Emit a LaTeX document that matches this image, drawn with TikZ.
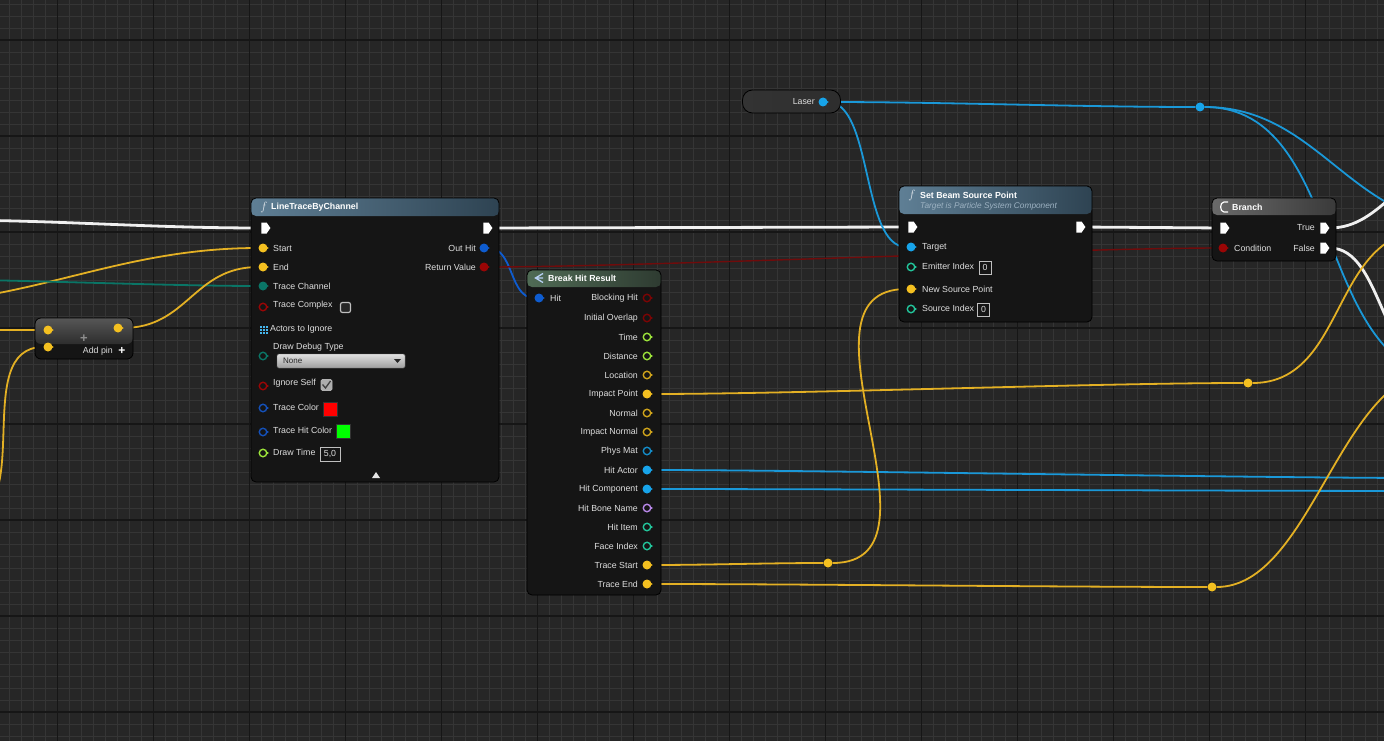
\documentclass[tikz,border=0pt]{standalone}
\usepackage{fontspec}
\setmainfont{Liberation Sans}
\usetikzlibrary{shapes.symbols,shapes.geometric}

\definecolor{canvas}{HTML}{262626}
\definecolor{gridminor}{HTML}{353535}
\definecolor{gridmajor}{HTML}{161616}
\definecolor{nodebg}{HTML}{151515}
\definecolor{labeltext}{HTML}{DEDEDE}
\definecolor{fnheadL}{HTML}{5F7F95}
\definecolor{fnheadR}{HTML}{2E4352}
\definecolor{brkheadL}{HTML}{506B55}
\definecolor{brkheadR}{HTML}{2E3B31}
\definecolor{grayheadL}{HTML}{6A6A6A}
\definecolor{grayheadR}{HTML}{3A3A3A}
\definecolor{vecyellow}{HTML}{F4C020}
\definecolor{wireyellow}{HTML}{E3B024}
\definecolor{objblue}{HTML}{17A4EA}
\definecolor{wireblue}{HTML}{1A98D8}
\definecolor{structblue}{HTML}{0E5CD0}
\definecolor{boolred}{HTML}{9A0505}
\definecolor{wirered}{HTML}{700B0B}
\definecolor{floatgreen}{HTML}{9BE23A}
\definecolor{intteal}{HTML}{22C49A}
\definecolor{enumteal}{HTML}{0A7566}
\definecolor{colorblue}{HTML}{1450B8}
\definecolor{namepurple}{HTML}{B686E6}
\definecolor{subtitle}{HTML}{9DB2C2}

\pgfdeclarelayer{grid}
\pgfdeclarelayer{wires}
\pgfsetlayers{grid,wires,main}

\begin{document}
\begin{tikzpicture}[x=1pt, y=-1pt, font=\fontsize{8.8}{10}\selectfont]
    \tikzstyle{bp node} = [rectangle, rounded corners=5pt, draw=black, line width=0.8pt, fill=nodebg, inner sep=0pt]
    \tikzset{head/.style n args={3}{path picture={\shade[left color=#2, right color=#3] (path picture bounding box.north west) rectangle ([yshift=-#1]path picture bounding box.north east);}}}
    \tikzset{cap/.style n args={3}{path picture={\shade[top color=#2, bottom color=#3] (path picture bounding box.north west) rectangle ([yshift=-#1]path picture bounding box.north east);}}}
    \tikzstyle{title} = [anchor=west, inner sep=0pt, text=white, font=\fontsize{8.8}{10}\selectfont\bfseries]
    \tikzstyle{fn icon} = [inner sep=0pt, text=white!80!fnheadL, font=\fontsize{12}{12}\selectfont]
    \tikzstyle{lbl} = [anchor=west, inner sep=0pt, text=labeltext]
    \tikzstyle{lbl right} = [anchor=east, inner sep=0pt, text=labeltext]
    \tikzstyle{pin tip} = [regular polygon, regular polygon sides=3, shape border rotate=-90, fill=#1, inner sep=0pt, minimum size=3pt]
    \tikzstyle{pin full} = [circle, fill=#1, inner sep=0pt, minimum size=9pt, label={[pin tip=#1, label distance=-1.4pt]0:}]
    \tikzstyle{pin ring} = [circle, draw=#1, line width=1.4pt, fill=nodebg, inner sep=0pt, minimum size=7.5pt, label={[pin tip=#1, label distance=-0.8pt]0:}]
    \tikzstyle{pin exec} = [signal, signal to=east, signal pointer angle=110, fill=white, inner sep=0pt, minimum width=9pt, minimum height=11pt]
    \tikzstyle{knot} = [circle, fill=#1, inner sep=0pt, minimum size=9pt]
    \tikzstyle{wire} = [draw=#1, line width=1.8pt]
    \tikzstyle{exec wire} = [draw=white!94!black, line width=2.8pt]
    \tikzstyle{value box} = [draw=white!75!black, line width=0.8pt, inner sep=0pt, minimum width=12pt, minimum height=13pt, text=labeltext]
    \tikzstyle{swatch} = [draw=black!80, line width=0.6pt, inner sep=0pt, minimum width=14pt, minimum height=14pt]

\useasboundingbox (0,0) rectangle (1384,741);
\begin{pgfonlayer}{grid}
\fill[canvas] (0,0) rectangle (1384,741);
\foreach \gx in {9.5,21.5,...,1384} \draw[gridminor, line width=0.8pt] (\gx,0) -- (\gx,741);
\foreach \gy in {4,16,...,741} \draw[gridminor, line width=0.8pt] (0,\gy) -- (1384,\gy);
\foreach \gx in {57.5,153.5,...,1384} \draw[gridmajor, line width=1.1pt] (\gx,0) -- (\gx,741);
\foreach \gy in {40,136,...,741} \draw[gridmajor, line width=1.1pt] (0,\gy) -- (1384,\gy);
\end{pgfonlayer}

% Add pin
\node[bp node, rounded corners=6pt, minimum width=98pt, minimum height=41pt, cap={26pt}{black!66}{nodebg}] (add) at (84,338.5) {};
\node[pin full=vecyellow] (add-a) at (48,330) {};
\node[pin full=vecyellow] (add-b) at (48,347) {};
\node[pin full=vecyellow] (add-out) at (118,328) {};
\node[inner sep=0pt, text=black!45, font=\fontsize{13}{13}\selectfont\bfseries] (add-plus) at (84,339) {+};
\node[lbl right] (add-lbl) at (113,351) {Add pin};
\node[inner sep=0pt, text=white, font=\fontsize{12}{12}\selectfont\bfseries] (add-pin) at (122,351) {+};

% LineTraceByChannel
\node[bp node, minimum width=248pt, minimum height=284pt, head={18pt}{fnheadL}{fnheadR}] (lt) at (375,340) {};
\node[fn icon] (lt-icon) at (264,207) {$f$};
\node[title] (lt-title) at (271,207) {LineTraceByChannel};
\node[pin exec] (lt-exec-in) at (264,228) {};
\node[pin exec] (lt-exec-out) at (486,228) {};
\node[pin full=vecyellow] (lt-start) at (263,248) {};
\node[lbl] at (273,248) {Start};
\node[pin full=vecyellow] (lt-end) at (263,267) {};
\node[lbl] at (273,267) {End};
\node[pin full=enumteal] (lt-chan) at (263,286) {};
\node[lbl] at (273,286) {Trace Channel};
\node[pin ring=boolred] (lt-complex) at (263,307) {};
\node[lbl] at (273,305) {Trace Complex};
\node[bp node, rounded corners=2pt, draw=white!75!black, line width=1.2pt, fill=black!85, minimum size=10pt] (lt-complex-box) at (345.5,307.5) {};
\foreach \i in {0,1,2} \foreach \j in {0,1,2} \fill[objblue!80!white] (259.5+3.2*\i,325.5+3.2*\j) rectangle +(2.1,2.1);
\node[lbl] at (270,329) {Actors to Ignore};
\node[pin ring=enumteal] (lt-debug) at (263,356) {};
\node[lbl] at (273,347) {Draw Debug Type};
\node[rectangle, rounded corners=1.5pt, draw=black!60, top color=black!12, bottom color=black!38, minimum width=128pt, minimum height=14pt, inner sep=0pt] (lt-drop) at (341,361) {};
\node[lbl, text=black!85, font=\fontsize{8}{9}\selectfont] at (283,361) {None};
\fill[black!85] (394,359) -- (401,359) -- (397.5,363) -- cycle;
\node[pin ring=boolred] (lt-self) at (263,386) {};
\node[lbl] at (273,383) {Ignore Self};
\node[bp node, rounded corners=1.5pt, draw=black!30, fill=black!32, minimum size=11pt] (lt-self-box) at (326.5,385) {};
\draw[black!75, line width=1.3pt] (322.5,384.5) -- (325.5,388) -- (330.5,381);
\node[pin ring=colorblue] (lt-tcolor) at (263,408) {};
\node[lbl] at (273,407) {Trace Color};
\node[swatch, fill=red] (lt-tcolor-swatch) at (330,409) {};
\node[pin ring=colorblue] (lt-hcolor) at (263,432) {};
\node[lbl] at (273,430) {Trace Hit Color};
\node[swatch, fill=green] (lt-hcolor-swatch) at (343,431.5) {};
\node[pin ring=floatgreen] (lt-time) at (263,453) {};
\node[lbl] at (273,452) {Draw Time};
\node[value box, minimum width=20pt, minimum height=14pt] (lt-time-box) at (330,454) {5,0};
\fill[labeltext!80] (372,478) -- (380,478) -- (376,472) -- cycle;
\node[lbl right] at (476,248) {Out Hit};
\node[pin full=structblue] (lt-outhit) at (484,248) {};
\node[lbl right] at (476,267) {Return Value};
\node[pin full=boolred] (lt-ret) at (484,267) {};

% Break Hit Result
\node[bp node, minimum width=134pt, minimum height=325pt, head={17pt}{brkheadL}{brkheadR}] (bh) at (594,432.5) {};
\draw[white!70!structblue, line width=1.3pt] (543,273.5) -- (535.5,278) -- (543,282.5) (535.5,278) -- (543,278);
\node[title] (bh-title) at (548,278) {Break Hit Result};
\node[pin full=structblue] (bh-hit) at (539,298) {};
\node[lbl] at (550,298) {Hit};
\node[lbl right] at (638,298) {Blocking Hit};
\node[pin ring=boolred!80!black] (bh-block) at (647,298) {};
\node[lbl right] at (638,318) {Initial Overlap};
\node[pin ring=boolred!80!black] (bh-overlap) at (647,318) {};
\node[lbl right] at (638,337) {Time};
\node[pin ring=floatgreen] (bh-time) at (647,337) {};
\node[lbl right] at (638,356) {Distance};
\node[pin ring=floatgreen] (bh-dist) at (647,356) {};
\node[lbl right] at (638,375) {Location};
\node[pin ring=vecyellow!85!black] (bh-loc) at (647,375) {};
\node[lbl right] at (638,394) {Impact Point};
\node[pin full=vecyellow] (bh-impact) at (647,394) {};
\node[lbl right] at (638,413) {Normal};
\node[pin ring=vecyellow!85!black] (bh-normal) at (647,413) {};
\node[lbl right] at (638,432) {Impact Normal};
\node[pin ring=vecyellow!85!black] (bh-inormal) at (647,432) {};
\node[lbl right] at (638,451) {Phys Mat};
\node[pin ring=objblue!85!black] (bh-physmat) at (647,451) {};
\node[lbl right] at (638,470) {Hit Actor};
\node[pin full=objblue] (bh-actor) at (647,470) {};
\node[lbl right] at (638,489) {Hit Component};
\node[pin full=objblue] (bh-comp) at (647,489) {};
\node[lbl right] at (638,508) {Hit Bone Name};
\node[pin ring=namepurple] (bh-bone) at (647,508) {};
\node[lbl right] at (638,527) {Hit Item};
\node[pin ring=intteal] (bh-item) at (647,527) {};
\node[lbl right] at (638,546) {Face Index};
\node[pin ring=intteal] (bh-face) at (647,546) {};
\node[lbl right] at (638,565) {Trace Start};
\node[pin full=vecyellow] (bh-tstart) at (647,565) {};
\node[lbl right] at (638,584) {Trace End};
\node[pin full=vecyellow] (bh-tend) at (647,584) {};

% Laser
\node[rectangle, rounded corners=10pt, draw=black, line width=0.8pt, left color=black!80, middle color=objblue!65!black, right color=black!82, minimum width=98pt, minimum height=23pt, inner sep=0pt] (laser) at (791.5,101.5) {};
\node[lbl right] at (815,102) {Laser};
\node[pin full=objblue] (laser-out) at (823,102) {};

% Set Beam Source Point
\node[bp node, minimum width=193pt, minimum height=136pt, head={28pt}{fnheadL}{fnheadR}] (sb) at (995.5,254) {};
\node[fn icon] (sb-icon) at (912,195) {$f$};
\node[title] (sb-title) at (920,195) {Set Beam Source Point};
\node[lbl, text=subtitle, font=\fontsize{8.3}{9}\selectfont\itshape] (sb-sub) at (920,206.5) {Target is Particle System Component};
\node[pin exec] (sb-exec-in) at (911,227) {};
\node[pin exec] (sb-exec-out) at (1079,227) {};
\node[pin full=objblue] (sb-target) at (911,247) {};
\node[lbl] at (922,247) {Target};
\node[pin ring=intteal] (sb-emitter) at (911,267) {};
\node[lbl] at (922,266) {Emitter Index};
\node[value box] (sb-emitter-box) at (985,267.5) {0};
\node[pin full=vecyellow] (sb-source) at (911,289) {};
\node[lbl] at (922,289) {New Source Point};
\node[pin ring=intteal] (sb-index) at (911,309) {};
\node[lbl] at (922,308) {Source Index};
\node[value box] (sb-index-box) at (983.5,309.5) {0};

% Branch
\node[bp node, minimum width=124pt, minimum height=63pt, head={17pt}{grayheadL}{grayheadR}] (br) at (1274,229.5) {};
\draw[white, line width=1.2pt] (1228,202) -- (1224,202) .. controls (1219.5,202) and (1219.5,212) .. (1224,212) -- (1228,212);
\node[title] (br-title) at (1232,207) {Branch};
\node[pin exec] (br-exec-in) at (1223,228) {};
\node[pin full=boolred] (br-cond) at (1223,248) {};
\node[lbl] at (1234,248) {Condition};
\node[lbl right] at (1315,228) {True};
\node[pin exec] (br-true) at (1323,228) {};
\node[lbl right] at (1315,248) {False};
\node[pin exec] (br-false) at (1323,248) {};

% reroute knots
\node[knot=objblue] (knot-laser) at (1200,107) {};
\node[knot=vecyellow] (knot-impact) at (1248,383) {};
\node[knot=vecyellow] (knot-tstart) at (828,563) {};
\node[knot=vecyellow] (knot-tend) at (1212,587) {};

% off-screen ends
\coordinate (in-exec) at (-60,220);
\coordinate (in-start) at (-120,305);
\coordinate (in-chan) at (-100,279);
\coordinate (in-adda) at (-40,330);
\coordinate (in-addb) at (-40,520);
\coordinate (out-true) at (1460,165);
\coordinate (out-false) at (1440,370);
\coordinate (out-lasera) at (1470,225);
\coordinate (out-laserb) at (1460,380);
\coordinate (out-impact) at (1430,230);
\coordinate (out-actor) at (1420,478);
\coordinate (out-comp) at (1420,491);
\coordinate (out-tend) at (1440,370);

\begin{pgfonlayer}{wires}
\clip (0,0) rectangle (1384,741);
\draw[exec wire] (in-exec) .. controls +(120,0) and +(-120,0) .. (lt-exec-in);
\draw[exec wire] (lt-exec-out) -- (sb-exec-in);
\draw[exec wire] (sb-exec-out) -- (br-exec-in);
\draw[exec wire] (br-true) .. controls +(60,0) and +(-60,0) .. (out-true);
\draw[exec wire] (br-false) .. controls +(60,0) and +(-60,0) .. (out-false);
\draw[wire=wireyellow] (in-start) .. controls +(150,0) and +(-150,0) .. (lt-start);
\draw[wire=enumteal] (in-chan) .. controls +(100,0) and +(-100,0) .. (lt-chan);
\draw[wire=wireyellow] (in-adda) -- (add-a);
\draw[wire=wireyellow] (in-addb) .. controls +(80,0) and +(-80,0) .. (add-b);
\draw[wire=wireyellow] (add-out) .. controls +(70,0) and +(-70,0) .. (lt-end);
\draw[wire=structblue] (lt-outhit) .. controls +(30,0) and +(-30,0) .. (bh-hit);
\draw[wire=wirered, line width=1.4pt] (lt-ret) .. controls +(150,0) and +(-150,0) .. (br-cond);
\draw[wire=wireblue] (laser-out) .. controls +(50,0) and +(-50,0) .. (sb-target);
\draw[wire=wireblue] (laser-out) .. controls +(120,0) and +(-120,0) .. (knot-laser);
\draw[wire=wireblue] (knot-laser) .. controls +(120,0) and +(-120,0) .. (out-lasera);
\draw[wire=wireblue] (knot-laser) .. controls +(150,0) and +(-150,0) .. (out-laserb);
\draw[wire=wireyellow] (bh-impact) .. controls +(150,0) and +(-150,0) .. (knot-impact);
\draw[wire=wireyellow] (knot-impact) .. controls +(100,0) and +(-100,0) .. (out-impact);
\draw[wire=wireblue] (bh-actor) .. controls +(150,0) and +(-150,0) .. (out-actor);
\draw[wire=wireblue] (bh-comp) .. controls +(150,0) and +(-150,0) .. (out-comp);
\draw[wire=wireyellow] (bh-tstart) .. controls +(60,0) and +(-60,0) .. (knot-tstart);
\draw[wire=wireyellow] (knot-tstart) .. controls +(130,0) and +(-130,0) .. (sb-source);
\draw[wire=wireyellow] (bh-tend) .. controls +(150,0) and +(-150,0) .. (knot-tend);
\draw[wire=wireyellow] (knot-tend) .. controls +(100,0) and +(-100,0) .. (out-tend);
\end{pgfonlayer}
\end{tikzpicture}
\end{document}
